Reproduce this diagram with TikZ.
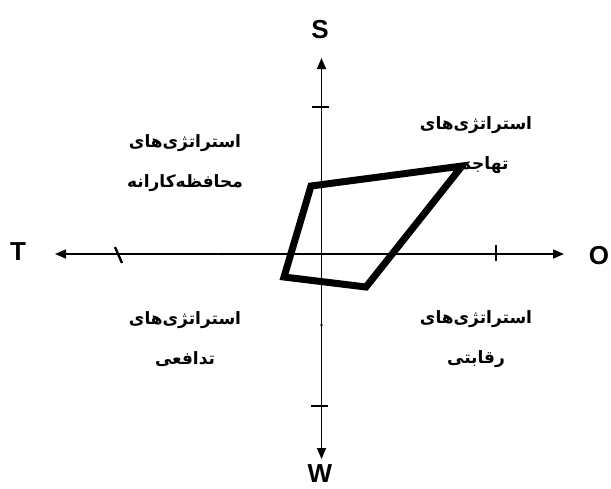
\documentclass[tikz,border=0pt]{standalone}
\usepackage{fontspec}
\setmainfont{Liberation Sans}
\newfontfamily\arabicfont[Script=Arabic]{DejaVu Sans}
\TeXXeTstate=1
\usepackage{tikz}
\usetikzlibrary{arrows.meta, positioning}

\begin{document}
\begin{tikzpicture}[
    x=1pt, y=-1pt,
    axis/.style={{Triangle[length=11pt,width=9pt]}-{Triangle[length=11pt,width=9pt]}, line width=1.6pt},
    tick/.style={line width=2.4pt},
    poly/.style={line width=7pt, line join=miter},
    axlabel/.style={font=\fontsize{26}{28}\selectfont\bfseries, inner sep=0pt},
    quad/.style={font=\arabicfont\bfseries\fontsize{17}{40}\selectfont, align=center, inner sep=0pt},
]
\useasboundingbox (0,0) rectangle (611,488);

% ── Axes ──
\coordinate (left) at (55,254);
\coordinate (right) at (564,254);
\coordinate (top) at (321.5,58);
\coordinate (bottom) at (321.5,459);
\draw[axis] (left) -- (right);
\draw[axis] (top) -- (bottom);

% ── Ticks ──
\draw[tick] (115,247) -- (122,263);
\draw[tick] (496,245) -- (496,261);
\draw[tick] (312,107) -- (329,107);
\draw[tick] (311,406) -- (328,406);
\fill (222,254) circle (1.3pt);
\fill (321.5,325) circle (1.3pt);

% ── Axis labels ──
\node[axlabel] (S) at (320,30) {S};
\node[axlabel] (W) at (320,474) {W};
\node[axlabel] (T) at (18,252) {T};
\node[axlabel] (O) at (599,256) {O};

% ── Quadrant labels ──
\node[quad] (wo) at (185,163) {\beginR استراتژی‌های\endR\\\beginR محافظه‌کارانه\endR};
\node[quad] (so) at (476,145) {\beginR استراتژی‌های\endR\\\beginR تهاجمی\endR};
\node[quad] (wt) at (185,339) {\beginR استراتژی‌های\endR\\\beginR تدافعی\endR};
\node[quad] (st) at (476,339) {\beginR استراتژی‌های\endR\\\beginR رقابتی\endR};

% ── Strategic position ──
\coordinate (p1) at (311,186);
\coordinate (p2) at (462,166);
\coordinate (p3) at (366,287);
\coordinate (p4) at (284,277);
\draw[poly] (p1) -- (p2) -- (p3) -- (p4) -- cycle;

\end{tikzpicture}
\end{document}
